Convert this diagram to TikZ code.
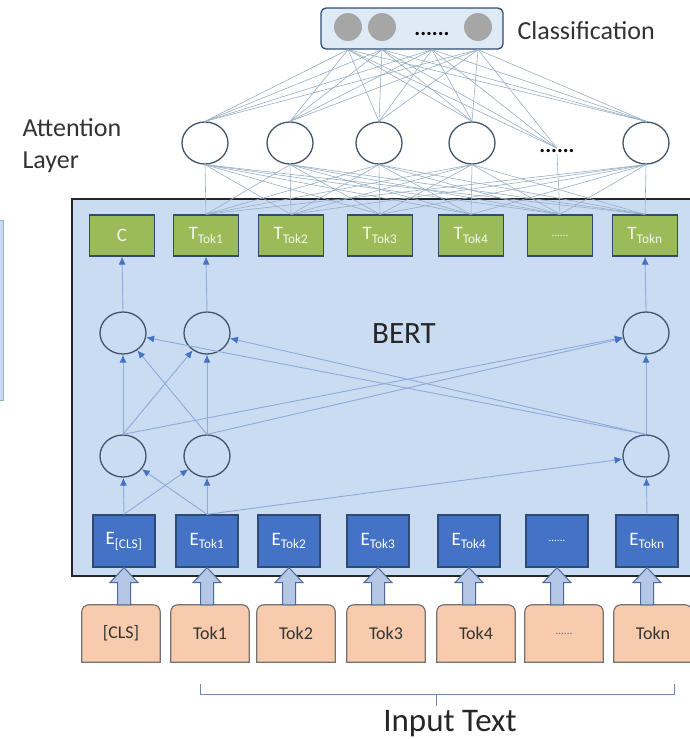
\documentclass[tikz,border=0pt]{standalone}
\usepackage{fontspec}
\setmainfont{Carlito}
\usetikzlibrary{arrows.meta,positioning,shapes.geometric,calc}
\definecolor{bertfill}{HTML}{C9DCF2}
\definecolor{tgreen}{HTML}{9BBB59}
\definecolor{eblue}{HTML}{4472C4}
\definecolor{edge}{HTML}{2F4B73}
\definecolor{tokfill}{HTML}{F8CBAD}
\definecolor{slate}{HTML}{44546A}
\definecolor{meshblue}{HTML}{98AEC4}
\definecolor{flowblue}{HTML}{8EAADB}
\definecolor{hollowfill}{HTML}{B4C7E7}
\definecolor{hollowline}{HTML}{4A6A9A}
\pgfdeclarelayer{background}
\pgfsetlayers{background,main}

\begin{document}
\begin{tikzpicture}[
    x=1pt, y=-1pt,
    clsdot/.style={circle, fill=black!35, minimum size=28pt, inner sep=0pt},
    attn/.style={ellipse, draw=slate, line width=1.3pt, fill=white, minimum width=46pt, minimum height=42pt, inner sep=0pt},
    hidden/.style={attn, fill=none},
    tbox/.style={draw=edge, line width=1.3pt, fill=tgreen, minimum width=65pt, minimum height=41pt,
        text=white!88!tgreen, font=\fontsize{19}{22}\selectfont},
    ebox/.style={draw=edge, line width=1.3pt, fill=eblue, minimum width=62pt, minimum height=52pt,
        text=white, font=\fontsize{19}{22}\selectfont},
    tokbox/.style={minimum width=78pt, minimum height=57pt, text=black!80, font=\fontsize{18}{21}\selectfont},
    tokshape/.style={draw=black!55, line width=1.2pt, fill=tokfill},
    hollow/.style={draw=hollowline, line width=1pt, fill=hollowfill},
    meshline/.style={draw=meshblue, line width=0.6pt},
    flowarrow/.style={draw=flowblue, line width=0.9pt, -{Latex[length=8pt,width=7pt,color=eblue]}},
    dotsfill/.style={font=\fontsize{11}{11}\selectfont},
    bigdots/.style={font=\fontsize{22}{22}\selectfont\bfseries, inner sep=1pt}
]
\useasboundingbox (0,0) rectangle (689,739);

% classification
\node[draw=edge, line width=1.3pt, fill=bertfill!60!white, rounded corners=5pt,
    minimum width=182pt, minimum height=41pt] (clsbox) at (412,28.5) {};
\node[clsdot] (k1) at (348,27) {};
\node[clsdot] (k2) at (382,27) {};
\node[bigdots] (kdots) at (432,34) {......};
\node[clsdot] (k3) at (478,27) {};
\node[anchor=west, font=\fontsize{26}{30}\selectfont, text=black!80] (clslabel) at (514,31) {Classification};

% attention layer
\node[attn] (a1) at (205,143) {};
\node[attn] (a2) at (290,143) {};
\node[attn] (a3) at (379,143) {};
\node[attn] (a4) at (472,143) {};
\node[bigdots] (adots) at (557,151) {......};
\node[attn] (a5) at (646,143) {};
\node[anchor=west, align=left, font=\fontsize{26}{32}\selectfont, text=black!80] (attnlabel) at (19,146) {Attention\\Layer};

% BERT block
\begin{pgfonlayer}{background}
\node[draw=meshblue, fill=bertfill, minimum width=14pt, minimum height=180pt] (side) at (-4,310) {};
\node[draw=black!85, line width=2pt, fill=bertfill, minimum width=628pt, minimum height=377pt] (bert) at (386,387.5) {};
\end{pgfonlayer}
\node[font=\fontsize{31}{36}\selectfont, text=black!85] (bertlabel) at (404,334) {BERT};

\node[tbox] (t0) at (122,235.5) {C};
\node[tbox] (t1) at (206,235.5) {T\textsubscript{Tok1}};
\node[tbox] (t2) at (291,235.5) {T\textsubscript{Tok2}};
\node[tbox] (t3) at (380,235.5) {T\textsubscript{Tok3}};
\node[tbox] (t4) at (471,235.5) {T\textsubscript{Tok4}};
\node[tbox, dotsfill] (t5) at (560,235.5) {......};
\node[tbox] (t6) at (645,235.5) {T\textsubscript{Tokn}};

\node[hidden] (u1) at (123,333) {};
\node[hidden] (u2) at (207,333) {};
\node[hidden] (un) at (646,333) {};
\node[hidden] (l1) at (123,456) {};
\node[hidden] (l2) at (207,456) {};
\node[hidden] (ln) at (646,456) {};

\node[ebox] (e0) at (124,541) {E\textsubscript{[CLS]}};
\node[ebox] (e1) at (207,541) {E\textsubscript{Tok1}};
\node[ebox] (e2) at (289,541) {E\textsubscript{Tok2}};
\node[ebox] (e3) at (378,541) {E\textsubscript{Tok3}};
\node[ebox] (e4) at (469,541) {E\textsubscript{Tok4}};
\node[ebox, dotsfill] (e5) at (557,541) {......};
\node[ebox] (e6) at (647,541) {E\textsubscript{Tokn}};

% input tokens
\node[tokbox] (tok0) at (121,633.5) {[CLS]};
\node[tokbox] (tok1) at (210,633.5) {Tok1};
\node[tokbox] (tok2) at (296,633.5) {Tok2};
\node[tokbox] (tok3) at (386,633.5) {Tok3};
\node[tokbox] (tok4) at (476,633.5) {Tok4};
\node[tokbox, dotsfill, text=black!60] (tok5) at (564,633.5) {......};
\node[tokbox] (tok6) at (653,633.5) {Tokn};
\begin{pgfonlayer}{background}
\foreach \n in {tok0,tok1,tok2,tok3,tok4,tok5,tok6}
    \draw[tokshape] {[rounded corners=7pt] (\n.south west) -- (\n.north west) -- (\n.north east)} -- (\n.south east) -- cycle;
\end{pgfonlayer}

% embeddings to first hidden layer
\draw[flowarrow] (e0.north) -- (l1);
\draw[flowarrow] (e0.north) -- (l2);
\draw[flowarrow] (e1.north) -- (l1);
\draw[flowarrow] (e1.north) -- (l2);
\draw[flowarrow] (e1.north) -- (ln);
\draw[flowarrow] (e6.north) -- (ln);

% hidden layer to hidden layer
\foreach \lo in {l1,l2,ln}
    \foreach \up in {u1,u2,un}
        \draw[flowarrow] (\lo.north) -- (\up);

\draw[flowarrow] (u1.north) -- (t0.south);
\draw[flowarrow] (u2.north) -- (t1.south);
\draw[flowarrow] (un.north) -- (t6.south);

% token inputs
\foreach \i in {0,...,6}
    \draw[hollow] let \p1=(e\i.south), \p2=(tok\i.north) in
        (\x1,\y1) -- (\x1+14pt,\y1-15pt) -- (\x1+6.5pt,\y1-15pt) -- (\x1+6.5pt,\y2)
        -- (\x1-6.5pt,\y2) -- (\x1-6.5pt,\y1-15pt) -- (\x1-14pt,\y1-15pt) -- cycle;

% attention mesh
\foreach \att in {a1,a2,a3,a4,a5}
    \foreach \tb in {t1,t2,t3,t4,t5,t6}
        \draw[meshline] (\tb.north) -- (\att.south);
\draw[meshline] (t5.north) -- (adots.south);

\foreach \att in {a1,a2,a3,a4,adots,a5}
    \foreach \cl in {k1,k2,kdots,k3}
        \draw[meshline] (\att.north) -- (\cl.south |- clsbox.south);

% input text brace
\coordinate (bracel) at (200,684);
\coordinate (bracer) at (674,684);
\coordinate (bracemid) at (436,694);
\draw[draw=flowblue!80!black, line width=1pt] (bracel) -- ++(0,10) -| (bracer);
\draw[draw=flowblue!80!black, line width=1pt] (bracemid) -- ++(0,12) coordinate (bracetip);
\node[below=1pt of bracetip, xshift=14pt, font=\fontsize{33}{38}\selectfont, text=black!85] (inputlabel) {Input Text};
\end{tikzpicture}
\end{document}
